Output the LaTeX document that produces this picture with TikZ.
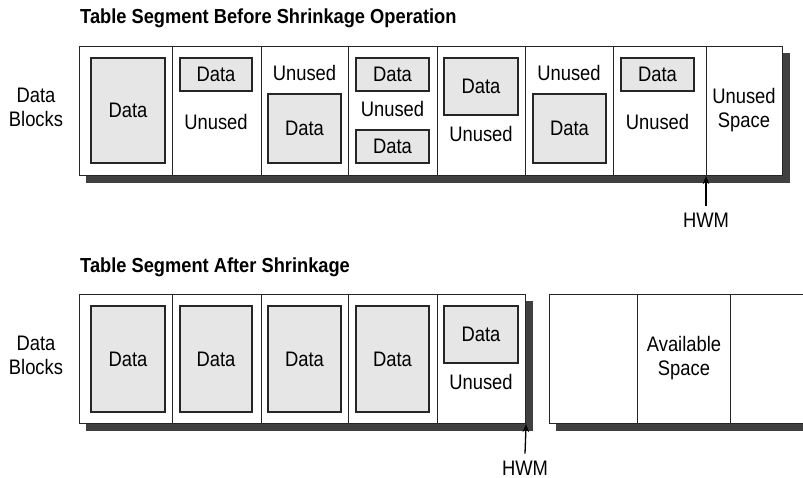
\documentclass[tikz,border=0pt]{standalone}
\usepackage{fontspec}
\setmainfont{Liberation Sans}[FakeStretch=0.875]
\newfontfamily\ttlfont{Liberation Sans}[FakeStretch=0.9]
\usetikzlibrary{arrows.meta,backgrounds}
\definecolor{shadowc}{HTML}{404040}
\definecolor{datafill}{HTML}{E6E6E6}
\begin{document}
\begin{tikzpicture}[x=1pt,y=-1pt,
  cell/.style={draw=black!85, line width=1.1pt, fill=white, minimum height=129pt, inner sep=0pt, anchor=north west},
  databox/.style={draw=black!85, line width=1.1pt, fill=datafill, inner sep=0pt, font=\fontsize{21}{24}\selectfont},
  lbl/.style={font=\fontsize{21}{24}\selectfont, inner sep=1pt, align=center},
  ttl/.style={font=\ttlfont\bfseries\fontsize{20.3}{23}\selectfont, anchor=west, inner sep=0pt},
  shadowfill/.style={fill=shadowc},
  arr/.style={line width=1.3pt, -{Stealth[length=8pt,width=6.5pt]}}]
\useasboundingbox (0,0) rectangle (803,478);
\clip (0,0) rectangle (803,478);

% ---------- Top: before shrinkage ----------
\node[ttl] (title1) at (80,18) {Table Segment Before Shrinkage Operation};
\node[lbl] (dbl1) at (36,107) {Data\\Blocks};

\node[cell, minimum width=93pt] (t1) at (79,46) {};
\node[cell, minimum width=89pt] (t2) at (172,46) {};
\node[cell, minimum width=87pt] (t3) at (261,46) {};
\node[cell, minimum width=89pt] (t4) at (348,46) {};
\node[cell, minimum width=88pt] (t5) at (437,46) {};
\node[cell, minimum width=88pt] (t6) at (525,46) {};
\node[cell, minimum width=93pt] (t7) at (613,46) {};
\node[cell, minimum width=76pt] (t8) at (706,46) {};
\begin{scope}[on background layer]
  \fill[shadowfill] ([shift={(7,7)}]t1.north west) rectangle ([shift={(7,7)}]t8.south east);
\end{scope}

\node[databox, minimum width=74pt, minimum height=105pt] (t1d) at (128,110.5) {Data};

\node[databox, minimum width=72pt, minimum height=33pt] (t2d) at (216,74.5) {Data};
\node[lbl] (t2u) at (216,122) {Unused};

\node[lbl] (t3u) at (304.5,73) {Unused};
\node[databox, minimum width=73pt, minimum height=69pt] (t3d) at (304.5,128.5) {Data};

\node[databox, minimum width=73pt, minimum height=33pt] (t4d1) at (392.5,74.5) {Data};
\node[lbl] (t4u) at (392.5,109) {Unused};
\node[databox, minimum width=73pt, minimum height=33pt] (t4d2) at (392.5,146.5) {Data};

\node[databox, minimum width=74pt, minimum height=57pt] (t5d) at (481,86.5) {Data};
\node[lbl] (t5u) at (481,134) {Unused};

\node[lbl] (t6u) at (569,73) {Unused};
\node[databox, minimum width=73pt, minimum height=69pt] (t6d) at (569.5,128.5) {Data};

\node[databox, minimum width=73pt, minimum height=33pt] (t7d) at (657.5,74.5) {Data};
\node[lbl] (t7u) at (657.5,122) {Unused};

\node[lbl] (t8u) at (744,110) {Unused\\Space};

\node[lbl] (hwm1) at (706,220) {HWM};
\draw[arr] ([yshift=6pt]hwm1.north) -- (t8.south west);

% ---------- Bottom: after shrinkage ----------
\node[ttl] (title2) at (80,267) {Table Segment After Shrinkage};
\node[lbl] (dbl2) at (36,355) {Data\\Blocks};

\node[cell, minimum width=93pt] (b1) at (79,294) {};
\node[cell, minimum width=89pt] (b2) at (172,294) {};
\node[cell, minimum width=87pt] (b3) at (261,294) {};
\node[cell, minimum width=89pt] (b4) at (348,294) {};
\node[cell, minimum width=88pt] (b5) at (437,294) {};

\node[cell, minimum width=88pt] (e1) at (549,294) {};
\node[cell, minimum width=93pt] (e2) at (637,294) {};
\node[cell, minimum width=90pt] (e3) at (730,294) {};
\begin{scope}[on background layer]
  \fill[shadowfill] ([shift={(7,7)}]b1.north west) rectangle ([shift={(7,7)}]b5.south east);
  \fill[shadowfill] ([shift={(7,7)}]e1.north west) rectangle ([shift={(7,7)}]e3.south east);
\end{scope}

\node[databox, minimum width=74pt, minimum height=106pt] (b1d) at (128,359) {Data};
\node[databox, minimum width=72pt, minimum height=106pt] (b2d) at (216,359) {Data};
\node[databox, minimum width=73pt, minimum height=106pt] (b3d) at (304.5,359) {Data};
\node[databox, minimum width=73pt, minimum height=106pt] (b4d) at (392.5,359) {Data};
\node[databox, minimum width=74pt, minimum height=57pt] (b5d) at (481,334.5) {Data};
\node[lbl] (b5u) at (481,382) {Unused};

\node[lbl] (avail) at (684,358) {Available\\Space};

\node[lbl] (hwm2) at (525,468) {HWM};
\draw[arr] ([yshift=6pt]hwm2.north) -- (b5.south east);
\end{tikzpicture}
\end{document}
